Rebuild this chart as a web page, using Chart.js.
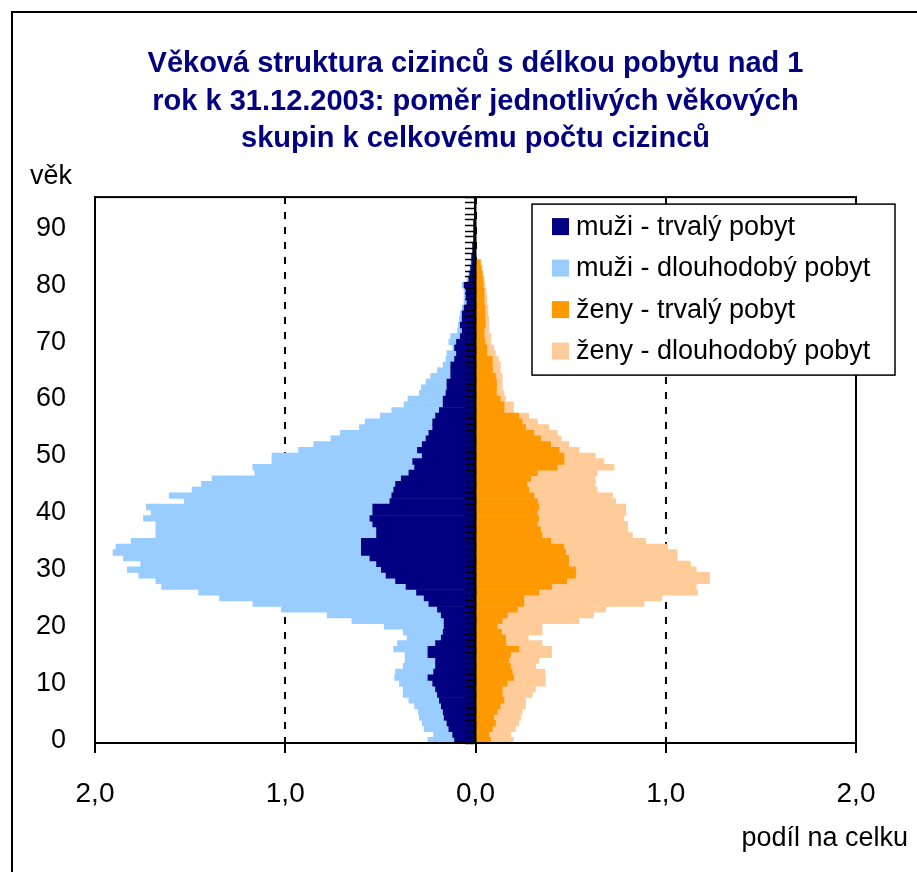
<!DOCTYPE html>
<html lang="cs">
<head>
<meta charset="utf-8">
<title>Věková struktura cizinců</title>
<script src="https://cdn.jsdelivr.net/npm/chart.js@4/dist/chart.umd.min.js"></script>
<style>
  html, body { margin: 0; padding: 0; background: #fff; }
  #wrap { width: 917px; height: 872px; position: relative; }
</style>
</head>
<body>
<div id="wrap"><canvas id="graf"></canvas></div>
<script>
// ─── Data ────────────────────────────────────────────────────────────────────

const ages = ['0','1','2','3','4','5','6','7','8','9',
  '10','11','12','13','14','15','16','17','18','19',
  '20','21','22','23','24','25','26','27','28','29',
  '30','31','32','33','34','35','36','37','38','39',
  '40','41','42','43','44','45','46','47','48','49',
  '50','51','52','53','54','55','56','57','58','59',
  '60','61','62','63','64','65','66','67','68','69',
  '70','71','72','73','74','75','76','77','78','79',
  '80','81','82','83','84','85','86','87','88','89',
  '90','91','92','93','94','95'];

const yTickLabels = ['0','10','20','30','40','50','60','70','80','90'];

// muži - trvalý pobyt
const menPerm = [0.11,0.12,0.14,0.15,0.165,0.17,0.18,0.19,0.20,0.21,
  0.225,0.25,0.22,0.21,0.21,0.25,0.25,0.21,0.18,0.17,
  0.165,0.165,0.18,0.20,0.245,0.27,0.31,0.365,0.42,0.47,
  0.495,0.52,0.555,0.60,0.60,0.60,0.52,0.52,0.54,0.555,
  0.54,0.54,0.45,0.44,0.43,0.42,0.39,0.35,0.32,0.33,
  0.28,0.305,0.28,0.26,0.245,0.225,0.225,0.21,0.19,0.17,
  0.17,0.155,0.15,0.15,0.13,0.13,0.13,0.11,0.10,0.11,
  0.10,0.08,0.07,0.08,0.07,0.07,0.06,0.045,0.05,0.05,
  0.06,0.035,0.03,0.025,0.02,0.02,0.015,0.015,0.01,0.01,
  0.01,0.01,0.005,0.005,0.005,0.005];

// muži - dlouhodobý pobyt
const menLong = [0.14,0.10,0.13,0.13,0.13,0.13,0.14,0.16,0.18,0.17,
  0.175,0.175,0.20,0.17,0.16,0.12,0.18,0.20,0.18,0.21,
  0.315,0.485,0.60,0.82,0.925,1.075,1.145,1.285,1.26,1.30,
  1.335,1.24,1.295,1.305,1.29,1.21,1.16,1.16,1.14,1.19,
  1.165,1.19,1.08,1.17,1.06,1.02,0.995,0.81,0.85,0.74,
  0.79,0.625,0.57,0.50,0.465,0.385,0.355,0.29,0.25,0.205,
  0.185,0.14,0.135,0.11,0.105,0.07,0.04,0.045,0.05,0.01,
  0.04,0.05,0.025,0.01,0.015,0.01,0.01,0.015,0.01,0.01,
  0.01,0.01,0.005,0.005,0.005,0,0,0,0,0,
  0,0,0,0,0,0];

// ženy - trvalý pobyt
const womenPerm = [0.079,0.07,0.088,0.105,0.096,0.114,0.13,0.149,0.14,0.14,
  0.167,0.20,0.193,0.184,0.175,0.184,0.228,0.16,0.158,0.137,
  0.114,0.14,0.167,0.22,0.254,0.254,0.333,0.40,0.48,0.526,
  0.526,0.49,0.49,0.474,0.465,0.395,0.35,0.342,0.325,0.333,
  0.325,0.333,0.325,0.307,0.28,0.27,0.29,0.325,0.43,0.465,
  0.465,0.44,0.395,0.342,0.307,0.263,0.245,0.228,0.15,0.15,
  0.13,0.11,0.11,0.11,0.105,0.09,0.088,0.088,0.06,0.06,
  0.05,0.045,0.045,0.05,0.05,0.05,0.05,0.045,0.045,0.045,
  0.04,0.04,0.035,0.03,0.025,0,0,0,0,0,
  0,0,0,0,0,0];

// ženy - dlouhodobý pobyt
const womenLong = [0.12,0.114,0.122,0.123,0.141,0.131,0.133,0.114,0.158,0.175,
  0.20,0.168,0.172,0.132,0.158,0.216,0.172,0.19,0.119,0.213,
  0.236,0.405,0.453,0.464,0.632,0.726,0.834,0.76,0.75,0.704,
  0.634,0.64,0.57,0.586,0.545,0.50,0.475,0.458,0.475,0.447,
  0.465,0.457,0.412,0.413,0.36,0.36,0.34,0.315,0.298,0.21,
  0.165,0.105,0.095,0.108,0.123,0.123,0.08,0.052,0.05,0.05,
  0.028,0.04,0.03,0.03,0.035,0.04,0.042,0.032,0.045,0.036,
  0.03,0.035,0.025,0.02,0.02,0.015,0.015,0.015,0.015,0.01,
  0.01,0.005,0.005,0.005,0.005,0,0,0,0,0,
  0,0,0,0,0,0];

const titleLines = [
  'Věková struktura cizinců s délkou pobytu nad 1',
  'rok k 31.12.2003: poměr jednotlivých věkových',
  'skupin k celkovému počtu cizinců'
];

// ─── Styl ────────────────────────────────────────────────────────────────────

const FONT = '"Liberation Sans", Arial, sans-serif';
const C_NAVY = '#000080';
const C_LBLUE = '#99CCFF';
const C_ORANGE = '#FF9900';
const C_PEACH = '#FFCC99';

// rámeček, popisky os a legenda v grafu
const decorPlugin = {
  id: 'decor',
  afterDraw(chart) {
    const { ctx, chartArea: a } = chart;
    ctx.save();
    ctx.strokeStyle = '#000';
    ctx.lineWidth = 2;
    ctx.strokeRect(a.left, a.top, a.right - a.left, a.bottom - a.top);

    ctx.beginPath();
    ctx.moveTo(12, 900);
    ctx.lineTo(12, 12);
    ctx.lineTo(940, 12);
    ctx.stroke();

    ctx.fillStyle = '#000';
    ctx.font = '27px ' + FONT;
    ctx.textBaseline = 'middle';
    ctx.textAlign = 'left';
    ctx.fillText('věk', 30, a.top - 21);
    ctx.textAlign = 'right';
    ctx.fillText('podíl na celku', a.right + 52, a.bottom + 96);

    // legenda
    const lx = a.right - 324, ly = a.top + 7, lw = 363, lh = 171;
    ctx.fillStyle = '#fff';
    ctx.fillRect(lx, ly, lw, lh);
    ctx.lineWidth = 1.5;
    ctx.strokeRect(lx, ly, lw, lh);
    ctx.textAlign = 'left';
    chart.data.datasets.forEach((ds, i) => {
      const cy = ly + 22 + i * 41.5;
      ctx.fillStyle = ds.backgroundColor;
      ctx.fillRect(lx + 20, cy - 8, 17, 17);
      ctx.fillStyle = '#000';
      ctx.fillText(ds.label, lx + 44, cy + 1);
    });
    ctx.restore();
  }
};

// ─── Graf ────────────────────────────────────────────────────────────────────

const barOpts = { barPercentage: 1, categoryPercentage: 1, borderWidth: 0 };

new Chart(document.getElementById('graf'), {
  type: 'bar',
  plugins: [decorPlugin],
  data: {
    labels: ages,
    datasets: [
      { label: 'muži - trvalý pobyt', data: menPerm.map(v => -v), backgroundColor: C_NAVY, ...barOpts },
      { label: 'muži - dlouhodobý pobyt', data: menLong.map(v => -v), backgroundColor: C_LBLUE, ...barOpts },
      { label: 'ženy - trvalý pobyt', data: womenPerm, backgroundColor: C_ORANGE, ...barOpts },
      { label: 'ženy - dlouhodobý pobyt', data: womenLong, backgroundColor: C_PEACH, ...barOpts },
    ],
  },
  options: {
    indexAxis: 'y',
    responsive: true,
    maintainAspectRatio: false,
    animation: false,
    devicePixelRatio: 1,
    layout: { padding: { left: 0, right: 61, top: 0, bottom: 0 } },
    plugins: {
      legend: { display: false },
      tooltip: { enabled: false },
      title: {
        display: true,
        fullSize: false,
        text: titleLines,
        color: C_NAVY,
        font: { family: FONT, size: 29, weight: 'bold', lineHeight: 1.3 },
        padding: { top: 45, bottom: 39 },
      },
    },
    scales: {
      x: {
        type: 'linear',
        min: -2,
        max: 2,
        stacked: true,
        afterFit: (s) => { s.height = 129; },
        ticks: {
          stepSize: 1,
          color: '#000',
          padding: 24,
          font: { family: FONT, size: 28 },
          callback: (v) => Math.abs(v).toFixed(1).replace('.', ','),
        },
        grid: {
          color: '#000',
          lineWidth: 2,
          tickLength: 10,
          tickColor: '#000',
          tickWidth: 2,
        },
        border: { display: true, color: '#000', width: 2, dash: [7, 8] },
      },
      y: {
        type: 'category',
        reverse: true,
        stacked: true,
        afterFit: (s) => { s.width = 95; },
        grid: { display: false, drawTicks: false },
        border: { display: true, color: '#000', width: 2 },
        ticks: {
          autoSkip: false,
          color: '#000',
          padding: 29,
          font: { family: FONT, size: 27 },
          callback: function (v) {
            const lab = this.getLabelForValue(v);
            return yTickLabels.includes(lab) ? lab : '';
          },
        },
      },
      yc: {
        type: 'category',
        position: { x: 0 },
        reverse: true,
        offset: true,
        ticks: { display: false },
        grid: {
          offset: true,
          drawOnChartArea: false,
          tickLength: 9,
          tickColor: '#000',
          tickWidth: 1.5,
          z: 1,
        },
        border: { display: true, color: '#000', width: 2.5, z: 1 },
      },
    },
  },
});
</script>
</body>
</html>
